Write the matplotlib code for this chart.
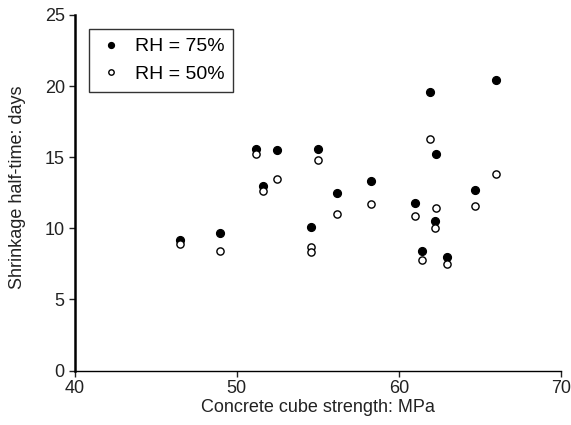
import matplotlib
matplotlib.use('Agg')
import matplotlib.pyplot as plt

plt.rcParams['font.family'] = ['Liberation Sans', 'DejaVu Sans']

# RH = 75% (filled)
x75 = [46.5, 49.0, 51.2, 51.6, 52.5, 54.6, 55.0, 56.2, 58.3, 61.0, 61.4, 61.9, 62.2, 62.3, 63.0, 64.7, 66.0]
y75 = [9.2, 9.7, 15.6, 13.0, 15.5, 10.1, 15.6, 12.5, 13.3, 11.8, 8.4, 19.6, 10.5, 15.2, 8.0, 12.7, 20.4]

# RH = 50% (open)
x50 = [46.5, 49.0, 51.2, 51.6, 52.5, 54.6, 54.6, 55.0, 56.2, 58.3, 61.0, 61.4, 61.9, 62.2, 62.3, 63.0, 64.7, 66.0]
y50 = [8.9, 8.4, 15.2, 12.6, 13.5, 8.7, 8.35, 14.8, 11.0, 11.7, 10.9, 7.8, 16.3, 10.0, 11.4, 7.5, 11.6, 13.8]

fig = plt.figure(figsize=(5.71, 4.25), dpi=100)
ax = fig.add_axes([0.1305, 0.128, 0.852, 0.837])

ax.plot(x75, y75, 'o', color='black', ms=5.6, mec='black', label='RH = 75%')
ax.plot(x50, y50, 'o', color='white', ms=5.2, mec='black', mew=1.0, label='RH = 50%')

ax.set_xlim(40, 70)
ax.set_ylim(0, 25)
ax.set_xticks([40, 50, 60, 70])
ax.set_yticks([0, 5, 10, 15, 20, 25])
ax.spines['top'].set_visible(False)
ax.spines['right'].set_visible(False)
ax.spines['left'].set_linewidth(1.8)
ax.spines['bottom'].set_linewidth(1.0)
ax.tick_params(direction='out', length=4.5, width=1.0, pad=2.5, labelsize=13, colors='#222222')
ax.set_xlabel('Concrete cube strength: MPa', fontsize=13, labelpad=1, color='#222222')
ax.set_ylabel('Shrinkage half-time: days', fontsize=13, color='#222222')
ax.yaxis.set_label_coords(-0.1, 0.515)

leg = ax.legend(loc='upper left', bbox_to_anchor=(0.03, 0.96), borderaxespad=0,
                fontsize=14, frameon=True, fancybox=False, edgecolor='black',
                markerscale=0.75, handletextpad=0.5, handlelength=1.4,
                borderpad=0.45, labelspacing=0.5)
leg.get_frame().set_linewidth(1.0)

fig.savefig('out.png', dpi=100)
